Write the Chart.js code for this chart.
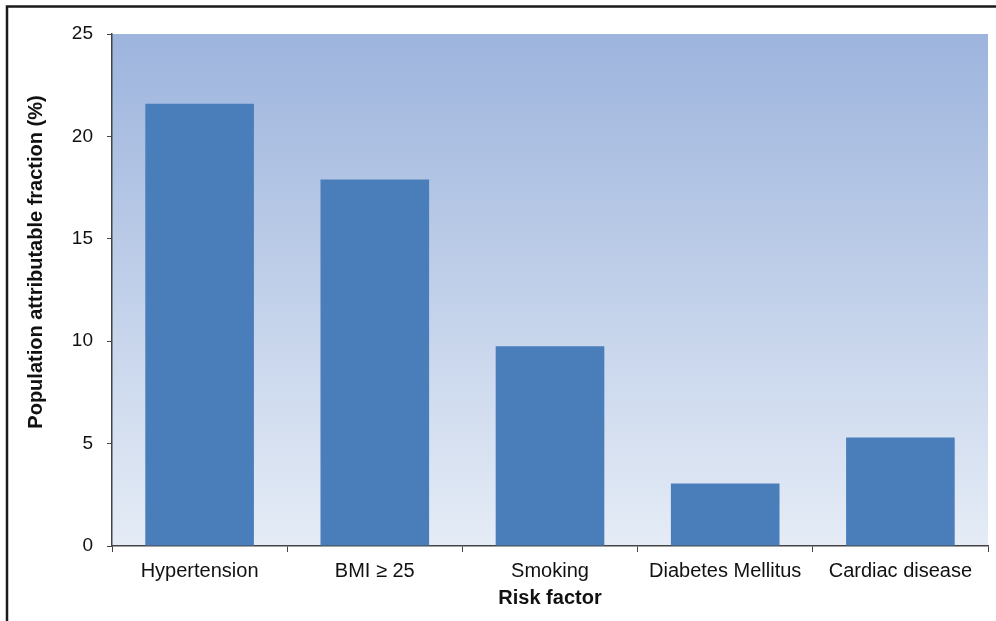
<!DOCTYPE html>
<html>
<head>
<meta charset="utf-8">
<script src="https://cdn.jsdelivr.net/npm/chart.js@4.4.0/dist/chart.umd.min.js"></script>
<style>
  html, body { margin: 0; padding: 0; background: #fff; }
  #wrap { width: 996px; height: 621px; position: relative; }
</style>
</head>
<body>
<div id="wrap"><canvas id="myChart" width="996" height="621"></canvas></div>
<script>
// data
const riskFactors = ['Hypertension', 'BMI \u2265 25', 'Smoking', 'Diabetes Mellitus', 'Cardiac disease'];
const fractions = [21.6, 17.9, 9.75, 3.05, 5.3];
const yTicks = [0, 5, 10, 15, 20, 25];
const xTitle = 'Risk factor';
const yTitle = 'Population attributable fraction (%)';

// gradient plot background + image frame
const plotBackground = {
  id: 'plotBackground',
  beforeDraw(chart) {
    const c = chart.ctx, a = chart.chartArea;
    c.save();
    const g = c.createLinearGradient(0, a.top, 0, a.bottom);
    g.addColorStop(0, '#9db4dd');
    g.addColorStop(1, '#e5ecf6');
    c.fillStyle = g;
    c.fillRect(a.left, a.top, a.right - a.left, a.bottom - a.top);
    c.strokeStyle = '#1a1a1a';
    c.lineWidth = 2.5;
    c.beginPath();
    c.moveTo(7, chart.height);
    c.lineTo(7, 6.5);
    c.lineTo(chart.width, 6.5);
    c.stroke();
    c.restore();
  },
  // axis titles, placed by hand
  afterDraw(chart) {
    const c = chart.ctx;
    c.save();
    c.fillStyle = '#111';
    c.font = 'bold 20px "Liberation Sans", Arial, sans-serif';
    c.textAlign = 'center';
    c.textBaseline = 'middle';
    c.fillText(xTitle, 550, 598);
    c.translate(36, 262);
    c.rotate(-Math.PI / 2);
    c.fillText(yTitle, 0, 0);
    c.restore();
  }
};

const ctx = document.getElementById('myChart').getContext('2d');

new Chart(ctx, {
  type: 'bar',
  data: {
    labels: riskFactors,
    datasets: [{
      data: fractions,
      backgroundColor: '#4a7ebb',
      categoryPercentage: 0.62,
      barPercentage: 1
    }]
  },
  options: {
    responsive: false,
    animation: false,
    layout: { padding: { top: 34, right: 8, left: 0, bottom: 0 } },
    plugins: {
      legend: { display: false },
      tooltip: { enabled: false }
    },
    scales: {
      x: {
        border: { color: '#444', width: 1.5 },
        grid: { drawOnChartArea: false, color: '#444', tickLength: 6, offset: true },
        ticks: { color: '#111', font: { family: 'Liberation Sans', size: 20 }, padding: 7, maxRotation: 0 },
        afterFit(scale) { scale.height = 75; }
      },
      y: {
        min: 0,
        max: 25,
        afterBuildTicks(scale) { scale.ticks = yTicks.map(v => ({ value: v })); },
        border: { color: '#444', width: 1.5 },
        grid: { drawOnChartArea: false, color: '#444', tickLength: 5 },
        ticks: { color: '#111', font: { family: 'Liberation Sans', size: 19 }, padding: 14 },
        afterFit(scale) { scale.width = 112; }
      }
    }
  },
  plugins: [plotBackground]
});
</script>
</body>
</html>
